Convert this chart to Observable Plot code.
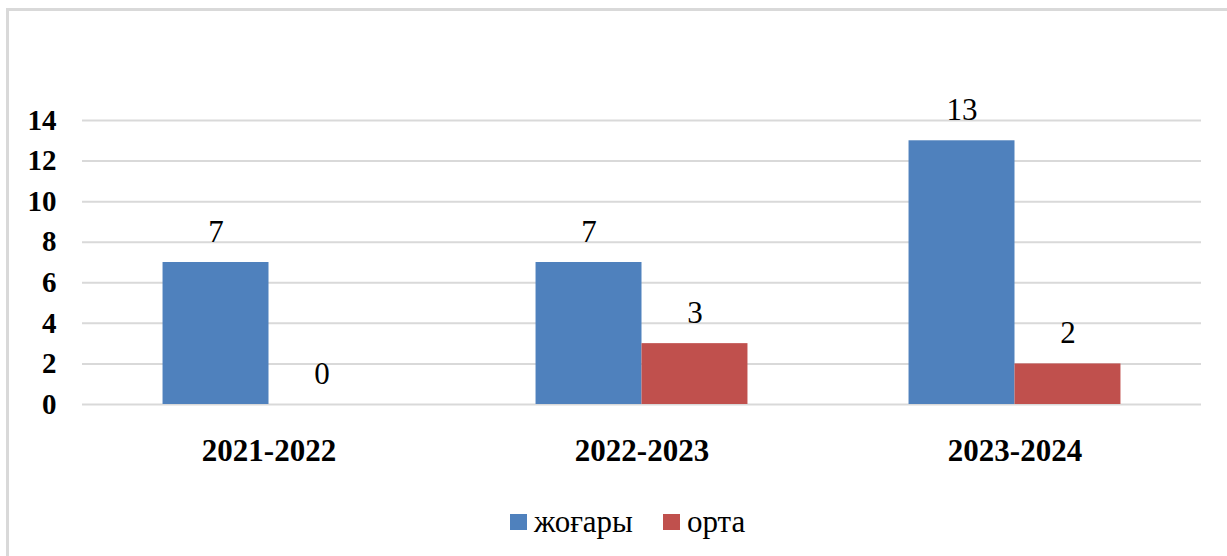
<!DOCTYPE html>
<html>
<head>
<meta charset="utf-8">
<script src="https://cdn.jsdelivr.net/npm/d3@7"></script>
<script src="https://cdn.jsdelivr.net/npm/@observablehq/plot@0.6"></script>
<style>
  html, body { margin: 0; padding: 0; background: #fff; width: 1227px; height: 556px; overflow: hidden; }
  #wrap { position: relative; width: 1227px; height: 556px; }
  #frame { position: absolute; left: 6px; top: 8px; width: 1300px; height: 600px; border-left: 3px solid #d9d9d9; border-top: 3px solid #d9d9d9; box-sizing: border-box; }
  #chart { position: absolute; left: 0; top: 0; }
  #legend { position: absolute; left: 510px; top: 504px; display: flex; align-items: center; font-family: "Liberation Serif", Tinos, "Times New Roman", "Noto Serif", "DejaVu Serif", serif; font-size: 31px; color: #000; }
  .sw { width: 17px; height: 16px; display: inline-block; margin-right: 7px; }
  .item { display: flex; align-items: center; margin-right: 30px; }
  svg text { font-family: "Liberation Serif", Tinos, "Times New Roman", "Noto Serif", "DejaVu Serif", serif; }
</style>
</head>
<body>
<div id="wrap">
  <div id="frame"></div>
  <div id="chart"></div>
  <div id="legend"></div>
</div>
<script>
const years = ["2021-2022", "2022-2023", "2023-2024"];
const seriesNames = ["жоғары", "орта"];
const highValues = [7, 7, 13];
const midValues = [0, 3, 2];
const yTicks = [0, 2, 4, 6, 8, 10, 12, 14];
const colors = ["#4F81BD", "#C0504D"];

const data = [];
years.forEach((yr, i) => {
  data.push({year: yr, series: seriesNames[0], value: highValues[i]});
  data.push({year: yr, series: seriesNames[1], value: midValues[i]});
});

const serif = '"Liberation Serif", Tinos, "Times New Roman", "Noto Serif", "DejaVu Serif", serif';

const chart = Plot.plot({
  width: 1227,
  height: 480,
  marginLeft: 81,
  marginRight: 25,
  marginTop: 120,
  marginBottom: 76,
  style: {fontFamily: serif, fontSize: "28px", color: "#000", background: "transparent", overflow: "visible"},
  fx: {domain: years, padding: 0, label: null},
  x: {domain: seriesNames, paddingInner: 0, paddingOuter: 0.76, round: false, axis: null},
  y: {domain: [0, 14], label: null},
  color: {domain: seriesNames, range: colors},
  marks: [
    Plot.gridY(yTicks, {stroke: "#d9d9d9", strokeOpacity: 1, strokeWidth: 2}),
    Plot.axisY(yTicks, {tickSize: 0, tickPadding: 26, fontWeight: "bold", fontSize: 29, label: null}),
    Plot.barY(data, {fx: "year", x: "series", y: "value", fill: "series"}),
    Plot.text(data, {fx: "year", x: "series", y: "value", text: d => String(d.value), lineAnchor: "bottom", dy: -21, fontSize: 31, fill: "#000"}),
    Plot.axisFx({anchor: "bottom", tickSize: 0, tickPadding: 34, fontWeight: "bold", fontSize: 31, label: null})
  ]
});
document.getElementById("chart").appendChild(chart);

const legend = document.getElementById("legend");
seriesNames.forEach((name, i) => {
  const item = document.createElement("div");
  item.className = "item";
  const sw = document.createElement("span");
  sw.className = "sw";
  sw.style.background = colors[i];
  const label = document.createElement("span");
  label.textContent = name;
  item.appendChild(sw);
  item.appendChild(label);
  legend.appendChild(item);
});
</script>
</body>
</html>
